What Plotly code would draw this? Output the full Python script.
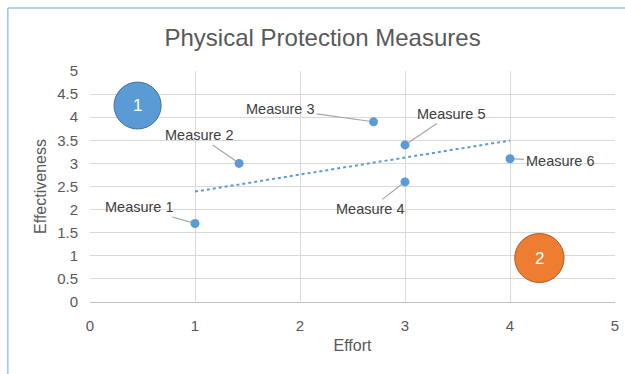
import numpy as np
import plotly.graph_objects as go

labels = ["Measure 1", "Measure 2", "Measure 3", "Measure 4", "Measure 5", "Measure 6"]
effort = [1.0, 1.42, 2.7, 3.0, 3.0, 4.0]
effectiveness = [1.7, 3.0, 3.9, 2.6, 3.4, 3.1]
# label offsets (pixels) relative to each point
label_dx = [-56, -40, -93, -35, 46, 50]
label_dy = [-16, -28, -13, 27, -31, 2]

x_ticks = [0, 1, 2, 3, 4, 5]
y_ticks = [0, 0.5, 1, 1.5, 2, 2.5, 3, 3.5, 4, 4.5, 5]

slope, intercept = np.polyfit(effort, effectiveness, 1)
tx = [min(effort), max(effort)]
ty = [slope * v + intercept for v in tx]

BLUE = "#5B9BD5"
GRAY = "#595959"
FONT = "Liberation Sans, Arial, sans-serif"

fig = go.Figure()
fig.add_trace(go.Scatter(x=tx, y=ty, mode="lines",
                         line=dict(color=BLUE, width=2, dash="dot"),
                         hoverinfo="skip", showlegend=False))
fig.add_trace(go.Scatter(x=effort, y=effectiveness, mode="markers",
                         marker=dict(color=BLUE, size=9),
                         text=labels, showlegend=False))

annotations = []
for lab, xv, yv, dx, dy in zip(labels, effort, effectiveness, label_dx, label_dy):
    annotations.append(dict(x=xv, y=yv, xref="x", yref="y", text=lab,
                            showarrow=True, arrowhead=0, arrowwidth=1.2,
                            arrowcolor="#A6A6A6", ax=dx, ay=dy, standoff=4,
                            font=dict(family=FONT, size=14.5, color="#404040")))

# numbered callout circles (decoration, paper coordinates)
callouts = [("1", 0.0458, 0.1355, 0.749, 0.952, BLUE, "#41719C"),
            ("2", 0.809, 0.903, 0.0844, 0.2965, "#ED7D31", "#AE5A21")]
shapes = []
for txt, x0, x1, y0, y1, fc, lc in callouts:
    shapes.append(dict(type="circle", xref="paper", yref="paper",
                       x0=x0, x1=x1, y0=y0, y1=y1,
                       fillcolor=fc, line=dict(color=lc, width=1), layer="above"))
    annotations.append(dict(x=(x0 + x1) / 2, y=(y0 + y1) / 2, xref="paper", yref="paper",
                            xanchor="center", yanchor="middle",
                            text=txt, showarrow=False,
                            font=dict(family=FONT, size=17, color="white")))

# outer chart frame (left and top edges visible)
shapes.append(dict(type="line", xref="paper", yref="paper",
                   x0=-0.1565, x1=-0.1565, y0=1.2727, y1=-0.35,
                   line=dict(color="#9DC3E6", width=1.5)))
shapes.append(dict(type="line", xref="paper", yref="paper",
                   x0=-0.1565, x1=1.05, y0=1.2727, y1=1.2727,
                   line=dict(color="#9DC3E6", width=1.5)))

fig.update_layout(
    width=625, height=374,
    margin=dict(l=90, r=6, t=71, b=72),
    paper_bgcolor="white", plot_bgcolor="white",
    title=dict(text="Physical Protection Measures", x=0.443, xref="paper",
               xanchor="center", y=0.9, yanchor="middle",
               font=dict(family=FONT, size=24, color=GRAY)),
    font=dict(family=FONT, color=GRAY),
    showlegend=False,
    annotations=annotations,
    shapes=shapes,
)
fig.update_xaxes(range=[0, 5], tickvals=x_ticks, showgrid=True, gridcolor="#D9D9D9",
                 zeroline=False, showline=False, ticks="outside", ticklen=10,
                 tickcolor="rgba(0,0,0,0)", tickfont=dict(size=15, color=GRAY),
                 title=dict(text="Effort", font=dict(size=16, color=GRAY), standoff=6))
fig.update_yaxes(range=[0, 5], tickvals=y_ticks, ticktext=[f"{v:g}" for v in y_ticks],
                 showgrid=True, gridcolor="#D9D9D9",
                 zeroline=True, zerolinecolor="#BFBFBF", zerolinewidth=1,
                 showline=False, ticks="outside", ticklen=8,
                 tickcolor="rgba(0,0,0,0)", tickfont=dict(size=15, color=GRAY),
                 title=dict(text="Effectiveness", font=dict(size=16, color=GRAY), standoff=6))

fig.write_html("out.html", config={"displayModeBar": False},
               post_script="document.body.style.margin='0';")
